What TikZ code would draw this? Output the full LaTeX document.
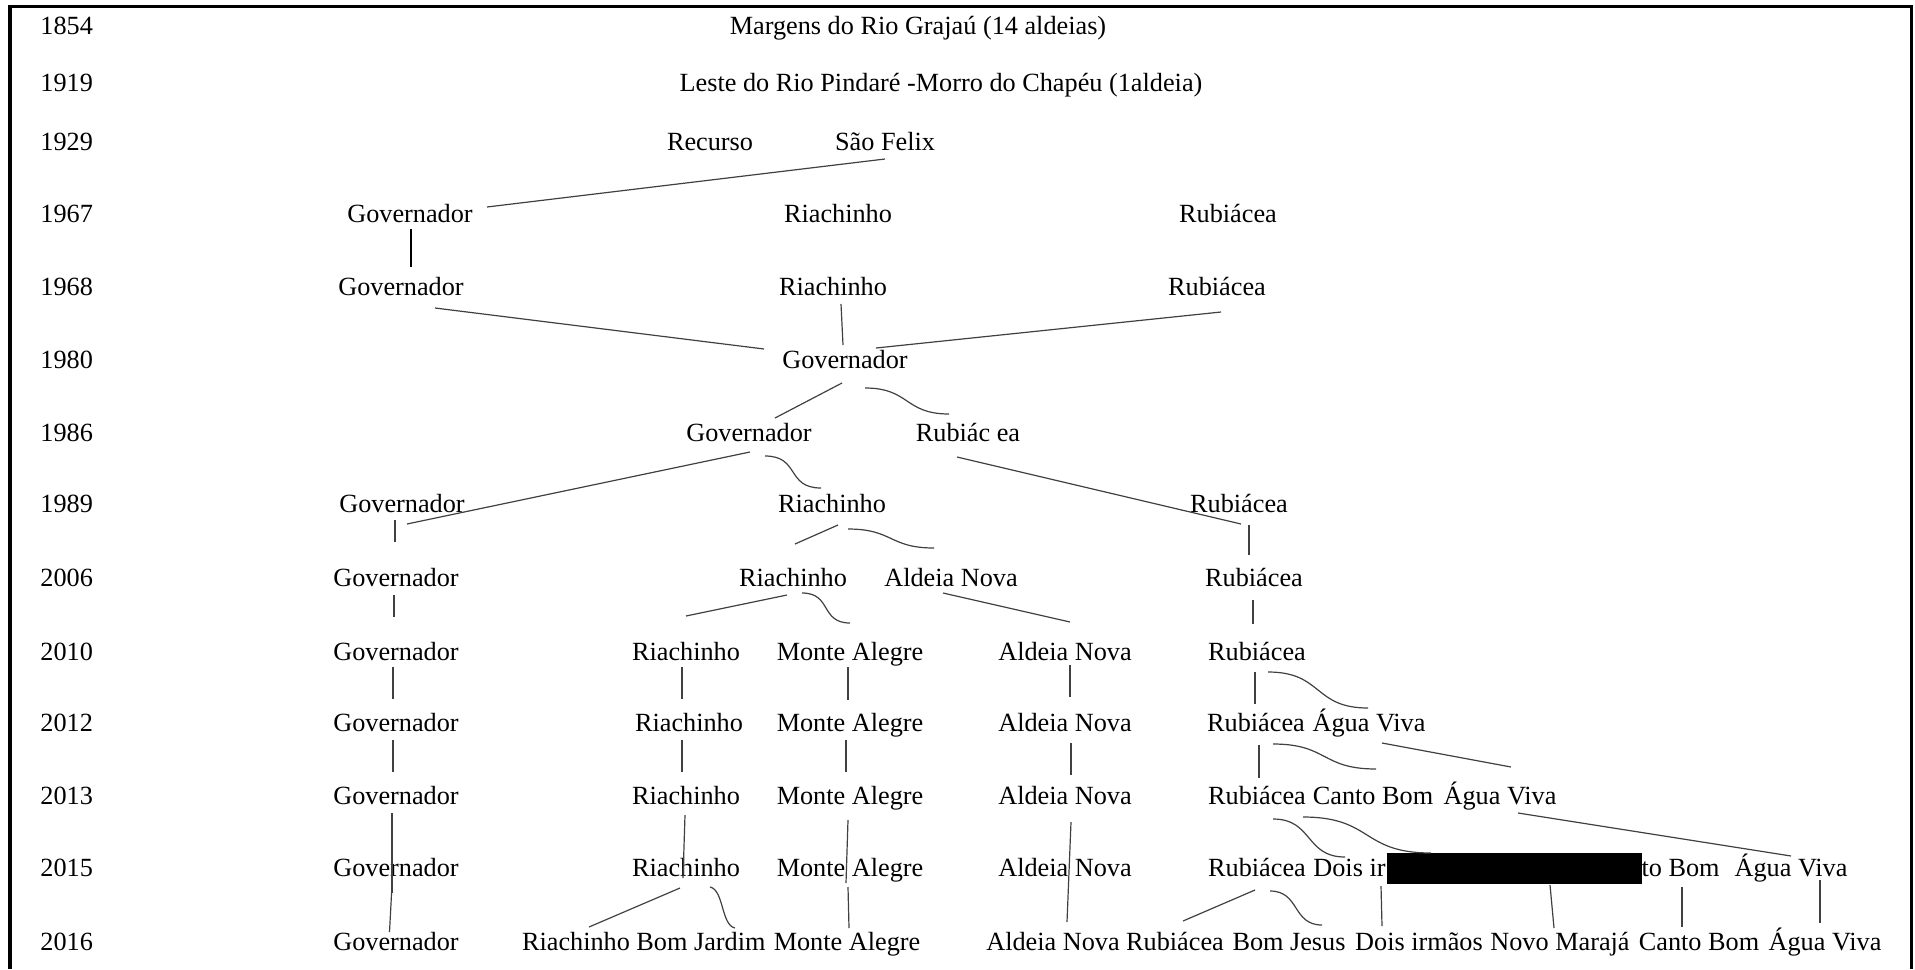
\documentclass[tikz,border=0pt]{standalone}
\usepackage{fontspec}
\setmainfont{Liberation Serif}
\newcommand\fsz{\fontsize{13.125pt}{15pt}\selectfont}
\tikzset{
  lbl/.style={inner sep=0pt, text height=9.2pt, text depth=3.3pt, font=\fsz},
  yr/.style={lbl, anchor=west},
  con/.style={draw=black!75, line width=0.6pt},
  boldcon/.style={draw=black, line width=1pt},
  redact/.style={fill=black, inner sep=0pt, minimum width=127.5pt, minimum height=15.5pt}
}
\begin{document}
\begin{tikzpicture}[x=0.5pt,y=-0.5pt]
\useasboundingbox (0,0) rectangle (1915,969);
\draw[line width=1.7pt] (10,969) -- (10,6.5) -- (1911.5,6.5) -- (1911.5,969);

% years
\node[yr] (y1854) at (40,28.4) {1854};
\node[yr] (y1919) at (40,85.8) {1919};
\node[yr] (y1929) at (40,144.1) {1929};
\node[yr] (y1967) at (40,216.8) {1967};
\node[yr] (y1968) at (40,289.1) {1968};
\node[yr] (y1980) at (40,362.1) {1980};
\node[yr] (y1986) at (40,435.8) {1986};
\node[yr] (y1989) at (40,506.8) {1989};
\node[yr] (y2006) at (40,580.8) {2006};
\node[yr] (y2010) at (40,654.1) {2010};
\node[yr] (y2012) at (40,725.8) {2012};
\node[yr] (y2013) at (40,798.4) {2013};
\node[yr] (y2015) at (40,870.8) {2015};
\node[yr] (y2016) at (40,944.1) {2016};

% 1854 / 1919 / 1929
\node[lbl] (m1854) at (918,28.4) {Margens do Rio Grajaú (14 aldeias)};
\node[lbl] (l1919) at (941,85.8) {Leste do Rio Pindaré -Morro do Chapéu (1aldeia)};
\node[lbl] (rec29) at (710,144.1) {Recurso};
\node[lbl] (sf29) at (885,144.1) {São Felix};

% 1967
\node[lbl] (gov67) at (410,216.8) {Governador};
\node[lbl] (ria67) at (838,216.8) {Riachinho};
\node[lbl] (rub67) at (1228,216.8) {Rubiácea};
% 1968
\node[lbl] (gov68) at (401,289.1) {Governador};
\node[lbl] (ria68) at (833,289.1) {Riachinho};
\node[lbl] (rub68) at (1217,289.1) {Rubiácea};
% 1980
\node[lbl] (gov80) at (845,362.1) {Governador};
% 1986
\node[lbl] (gov86) at (749,435.8) {Governador};
\node[lbl] (rub86) at (968,435.8) {Rubiác ea};
% 1989
\node[lbl] (gov89) at (402,506.8) {Governador};
\node[lbl] (ria89) at (832,506.8) {Riachinho};
\node[lbl] (rub89) at (1239,506.8) {Rubiácea};
% 2006
\node[lbl] (gov06) at (396,580.8) {Governador};
\node[lbl] (ria06) at (793,580.8) {Riachinho};
\node[lbl] (ald06) at (951,580.8) {Aldeia Nova};
\node[lbl] (rub06) at (1254,580.8) {Rubiácea};
% 2010
\node[lbl] (gov10) at (396,654.1) {Governador};
\node[lbl] (ria10) at (686,654.1) {Riachinho};
\node[lbl] (mon10) at (850,654.1) {Monte Alegre};
\node[lbl] (ald10) at (1065,654.1) {Aldeia Nova};
\node[lbl] (rub10) at (1257,654.1) {Rubiácea};
% 2012
\node[lbl] (gov12) at (396,725.8) {Governador};
\node[lbl] (ria12) at (689,725.8) {Riachinho};
\node[lbl] (mon12) at (850,725.8) {Monte Alegre};
\node[lbl] (ald12) at (1065,725.8) {Aldeia Nova};
\node[lbl] (rub12) at (1256,725.8) {Rubiácea};
\node[lbl] (agua12) at (1369,725.8) {Água Viva};
% 2013
\node[lbl] (gov13) at (396,798.4) {Governador};
\node[lbl] (ria13) at (686,798.4) {Riachinho};
\node[lbl] (mon13) at (850,798.4) {Monte Alegre};
\node[lbl] (ald13) at (1065,798.4) {Aldeia Nova};
\node[lbl] (rub13) at (1257,798.4) {Rubiácea};
\node[lbl] (canto13) at (1373,798.4) {Canto Bom};
\node[lbl] (agua13) at (1500,798.4) {Água Viva};
% 2015
\node[lbl] (gov15) at (396,870.8) {Governador};
\node[lbl] (ria15) at (686,870.8) {Riachinho};
\node[lbl] (mon15) at (850,870.8) {Monte Alegre};
\node[lbl] (ald15) at (1065,870.8) {Aldeia Nova};
\node[lbl] (rub15) at (1257,870.8) {Rubiácea};
\node[lbl, anchor=west] (dois15) at (1313,870.8) {Dois ir};
\node[redact] (box15) at (1514.5,868.5) {};
\node[lbl, anchor=east] (canto15) at (1720,870.8) {to Bom};
\node[lbl] (agua15) at (1791,870.8) {Água Viva};
% 2016
\node[lbl] (gov16) at (396,944.1) {Governador};
\node[lbl] (ria16) at (576,944.1) {Riachinho};
\node[lbl] (bj16) at (701,944.1) {Bom Jardim};
\node[lbl] (mon16) at (847,944.1) {Monte Alegre};
\node[lbl] (ald16) at (1053,944.1) {Aldeia Nova};
\node[lbl] (rub16) at (1175,944.1) {Rubiácea};
\node[lbl] (bjs16) at (1289,944.1) {Bom Jesus};
\node[lbl] (dois16) at (1419,944.1) {Dois irmãos};
\node[lbl] (novo16) at (1560,944.1) {Novo Marajá};
\node[lbl] (canto16) at (1699,944.1) {Canto Bom};
\node[lbl] (agua16) at (1825,944.1) {Água Viva};

% connectors
\draw[con] ([shift={(0,14.9)}]sf29.center) -- ([shift={(77,-9.8)}]gov67.center);
\draw[boldcon] ([shift={(1,12.2)}]gov67.center) -- ([shift={(10,-22.1)}]gov68.center);
\draw[con] ([shift={(34,18.9)}]gov68.center) -- ([shift={(-81,-13.1)}]gov80.center);
\draw[con] ([shift={(8,14.9)}]ria68.center) -- ([shift={(-2,-17.1)}]gov80.center);
\draw[con] ([shift={(4,22.9)}]rub68.center) -- ([shift={(31,-14.1)}]gov80.center);
\draw[con] ([shift={(-3,20.9)}]gov80.center) -- ([shift={(26,-17.8)}]gov86.center);
\draw[con] ([shift={(20,25.9)}]gov80.center) .. controls +(45,0) and +(-45,0) .. ([shift={(-19,-21.8)}]rub86.center);
\draw[con] ([shift={(1,16.2)}]gov86.center) -- ([shift={(5,17.2)}]gov89.center);
\draw[con] ([shift={(16,20.2)}]gov86.center) .. controls +(35,0) and +(-35,0) .. ([shift={(-11,-18.8)}]ria89.center);
\draw[con] ([shift={(-11,21.2)}]rub86.center) -- ([shift={(2,17.2)}]rub89.center);
\draw[con] ([shift={(-7,13.2)}]gov89.center) -- ([shift={(-1,-38.8)}]gov06.center);
\draw[con] ([shift={(6,18.2)}]ria89.center) -- ([shift={(2,-36.8)}]ria06.center);
\draw[con] ([shift={(16,22.2)}]ria89.center) .. controls +(45,0) and +(-45,0) .. ([shift={(-17,-32.8)}]ald06.center);
\draw[con] ([shift={(10,18.2)}]rub89.center) -- ([shift={(-5,-25.8)}]rub06.center);
\draw[con] ([shift={(-2,14.2)}]gov06.center) -- ([shift={(-2,-37.1)}]gov10.center);
\draw[con] ([shift={(-6,14.2)}]ria06.center) -- ([shift={(0,-38.1)}]ria10.center);
\draw[con] ([shift={(9,12.2)}]ria06.center) .. controls +(30,0) and +(-30,0) .. ([shift={(0,-31.1)}]mon10.center);
\draw[con] ([shift={(-8,12.2)}]ald06.center) -- ([shift={(5,-32.1)}]ald10.center);
\draw[con] ([shift={(-1,19.2)}]rub06.center) -- ([shift={(-4,-30.1)}]rub10.center);
\draw[con] ([shift={(-3,12.9)}]gov10.center) -- ([shift={(-3,-26.8)}]gov12.center);
\draw[con] ([shift={(-4,12.9)}]ria10.center) -- ([shift={(-7,-26.8)}]ria12.center);
\draw[con] ([shift={(-2,12.9)}]mon10.center) -- ([shift={(-2,-25.8)}]mon12.center);
\draw[con] ([shift={(5,10.9)}]ald10.center) -- ([shift={(5,-28.8)}]ald12.center);
\draw[con] ([shift={(-2,17.9)}]rub10.center) -- ([shift={(-1,-21.8)}]rub12.center);
\draw[con] ([shift={(11,17.9)}]rub10.center) .. controls +(55,0) and +(-55,0) .. ([shift={(-1,-17.8)}]agua12.center);
\draw[con] ([shift={(-3,14.2)}]gov12.center) -- ([shift={(-3,-26.4)}]gov13.center);
\draw[con] ([shift={(-7,14.2)}]ria12.center) -- ([shift={(-4,-26.4)}]ria13.center);
\draw[con] ([shift={(-4,14.2)}]mon12.center) -- ([shift={(-4,-26.4)}]mon13.center);
\draw[con] ([shift={(6,17.2)}]ald12.center) -- ([shift={(6,-23.4)}]ald13.center);
\draw[con] ([shift={(3,19.2)}]rub12.center) -- ([shift={(2,-20.4)}]rub13.center);
\draw[con] ([shift={(17,18.2)}]rub12.center) .. controls +(55,0) and +(-55,0) .. ([shift={(3,-29.4)}]canto13.center);
\draw[con] ([shift={(13,17.2)}]agua12.center) -- ([shift={(11,-31.4)}]agua13.center);
\draw[con] ([shift={(-4,14.6)}]gov13.center) -- ([shift={(-4,22.2)}]gov15.center);
\draw[con] ([shift={(-4,14.2)}]gov15.center) -- ([shift={(-6.5,-12.1)}]gov16.center);
\draw[con] ([shift={(-1,16.6)}]ria13.center) -- ([shift={(-3,7.2)}]ria15.center);
\draw[con] ([shift={(-2,21.6)}]mon13.center) -- ([shift={(-4,12.2)}]mon15.center);
\draw[con] ([shift={(-2,16.2)}]mon15.center) -- ([shift={(2,-16.1)}]mon16.center);
\draw[con] ([shift={(6,23.6)}]ald13.center) -- ([shift={(14,-22.1)}]ald16.center);
\draw[con] ([shift={(16,20.6)}]rub13.center) .. controls +(40,0) and +(-40,0) .. ([shift={(32,-13.8)}]dois15.west);
\draw[con] ([shift={(46,18.6)}]rub13.center) .. controls +(70,0) and +(-70,0) .. ([shift={(-83.5,-15.5)}]box15.center);
\draw[con] ([shift={(18,14.6)}]agua13.center) -- ([shift={(0,-14.8)}]agua15.center);
\draw[con] ([shift={(-6,17.2)}]ria15.center) -- ([shift={(13,-17.1)}]ria16.center);
\draw[con] ([shift={(24,16.2)}]ria15.center) .. controls +(14,3) and +(-14,-3) .. ([shift={(34,-16.1)}]bj16.center);
\draw[con] ([shift={(-2,19.2)}]rub15.center) -- ([shift={(8,-23.1)}]rub16.center);
\draw[con] ([shift={(13,20.2)}]rub15.center) .. controls +(30,0) and +(-30,0) .. ([shift={(33,-19.1)}]bjs16.center);
\draw[con] ([shift={(68,15.2)}]dois15.west) -- ([shift={(-37,-18.1)}]dois16.center);
\draw[con] ([shift={(35.5,16.5)}]box15.center) -- ([shift={(-6,-16.1)}]novo16.center);
\draw[con] ([shift={(-38,16.2)}]canto15.east) -- ([shift={(-17,-17.1)}]canto16.center);
\draw[con] ([shift={(29,9.2)}]agua15.center) -- ([shift={(-5,-21.1)}]agua16.center);
\end{tikzpicture}
\end{document}
